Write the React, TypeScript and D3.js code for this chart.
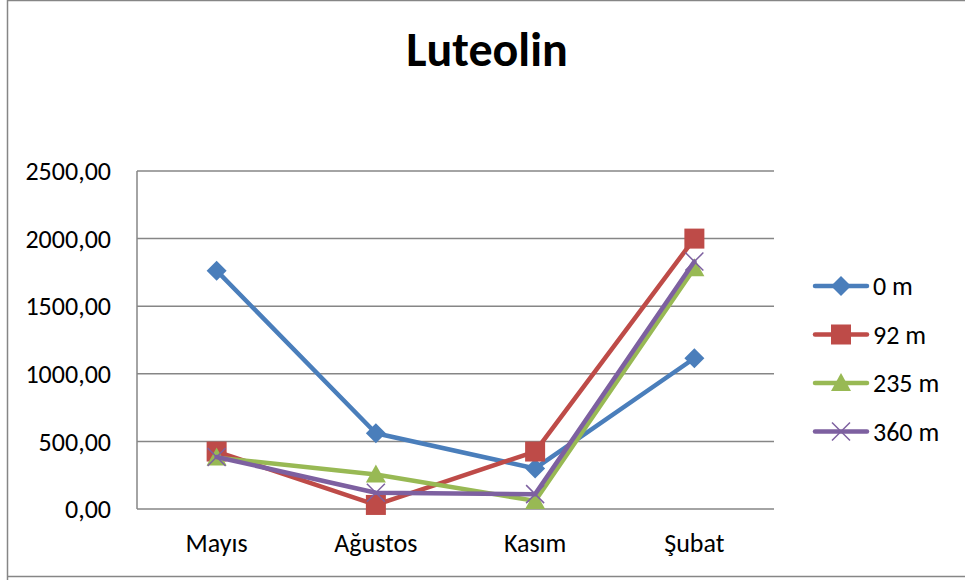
import React from "react";
import * as d3 from "d3";

const categories = ["Mayıs", "Ağustos", "Kasım", "Şubat"];
const seriesNames = ["0 m", "92 m", "235 m", "360 m"];
const s0 = [1763, 560, 300, 1115];
const s92 = [425, 30, 425, 2000];
const s235 = [380, 255, 60, 1780];
const s360 = [385, 120, 110, 1830];
const yTicks = [0, 500, 1000, 1500, 2000, 2500];
const colors = ["#4A7EBB", "#BE4B48", "#98B954", "#7D60A0"];
const markers = ["diamond", "square", "triangle", "x"];

const W = 965, H = 580;
const plot = { left: 137, right: 774, top: 171, bottom: 509 };
const FONT = "Carlito, Lato, 'Open Sans', sans-serif";

function Marker({ type, x, y, color }: { type: string; x: number; y: number; color: string }) {
  if (type === "diamond") {
    const r = 10;
    return <path d={`M${x},${y - r}L${x + r},${y}L${x},${y + r}L${x - r},${y}Z`} fill={color} />;
  }
  if (type === "square") {
    const r = 10;
    return <rect x={x - r} y={y - r} width={2 * r} height={2 * r} fill={color} />;
  }
  if (type === "triangle") {
    const r = 10;
    return <path d={`M${x},${y - r}L${x + r},${y + r * 0.8}L${x - r},${y + r * 0.8}Z`} fill={color} />;
  }
  const r = 9;
  return (
    <path d={`M${x - r},${y - r}L${x + r},${y + r}M${x - r},${y + r}L${x + r},${y - r}`} stroke={color} strokeWidth={1.5} fill="none" />
  );
}

export default function App() {
  const data = [s0, s92, s235, s360];
  const x = d3.scaleBand<string>().domain(categories).range([plot.left, plot.right]);
  const y = d3.scaleLinear().domain([0, 2500]).range([plot.bottom, plot.top]);
  const cx = (c: string) => (x(c) as number) + x.bandwidth() / 2;
  const line = d3.line<number>().x((_, i) => cx(categories[i])).y((v) => y(v));
  const fmt = (v: number) => v.toFixed(2).replace(".", ",");

  return (
    <svg width={W} height={H} style={{ position: "absolute", left: 0, top: 0, background: "#fff" }} fontFamily={FONT}>
      <rect x={0} y={0} width={W} height={H} fill="#fff" />
      <path d={`M7.5,${H}V0.5H${W}M7.5,576.5H${W}`} stroke="#868686" strokeWidth={1.5} fill="none" />
      <text x={487} y={66} textAnchor="middle" fontSize={48} fontWeight="bold" fill="#000">Luteolin</text>
      {yTicks.map((t) => (
        <g key={t}>
          <line x1={plot.left} x2={plot.right} y1={y(t)} y2={y(t)} stroke="#868686" strokeWidth={1.5} />
          <text x={111} y={y(t)} dy="0.35em" textAnchor="end" fontSize={26} fill="#000">{fmt(t)}</text>
        </g>
      ))}
      <line x1={plot.left} x2={plot.left} y1={plot.top} y2={plot.bottom} stroke="#868686" strokeWidth={1.5} />
      {categories.map((c) => (
        <text key={c} x={cx(c)} y={552} textAnchor="middle" fontSize={26} fill="#000">{c}</text>
      ))}
      {data.map((d, i) => (
        <g key={i}>
          <path d={line(d) || ""} stroke={colors[i]} strokeWidth={4.5} fill="none" strokeLinejoin="round" strokeLinecap="round" />
          {d.map((v, j) => (
            <Marker key={j} type={markers[i]} x={cx(categories[j])} y={y(v)} color={colors[i]} />
          ))}
        </g>
      ))}
      {seriesNames.map((n, i) => {
        const ly = 286 + i * 48.5;
        return (
          <g key={n}>
            <line x1={815} x2={867} y1={ly} y2={ly} stroke={colors[i]} strokeWidth={4.5} strokeLinecap="round" />
            <Marker type={markers[i]} x={841} y={ly} color={colors[i]} />
            <text x={873} y={ly} dy="0.35em" fontSize={26} fill="#000">{n}</text>
          </g>
        );
      })}
    </svg>
  );
}
